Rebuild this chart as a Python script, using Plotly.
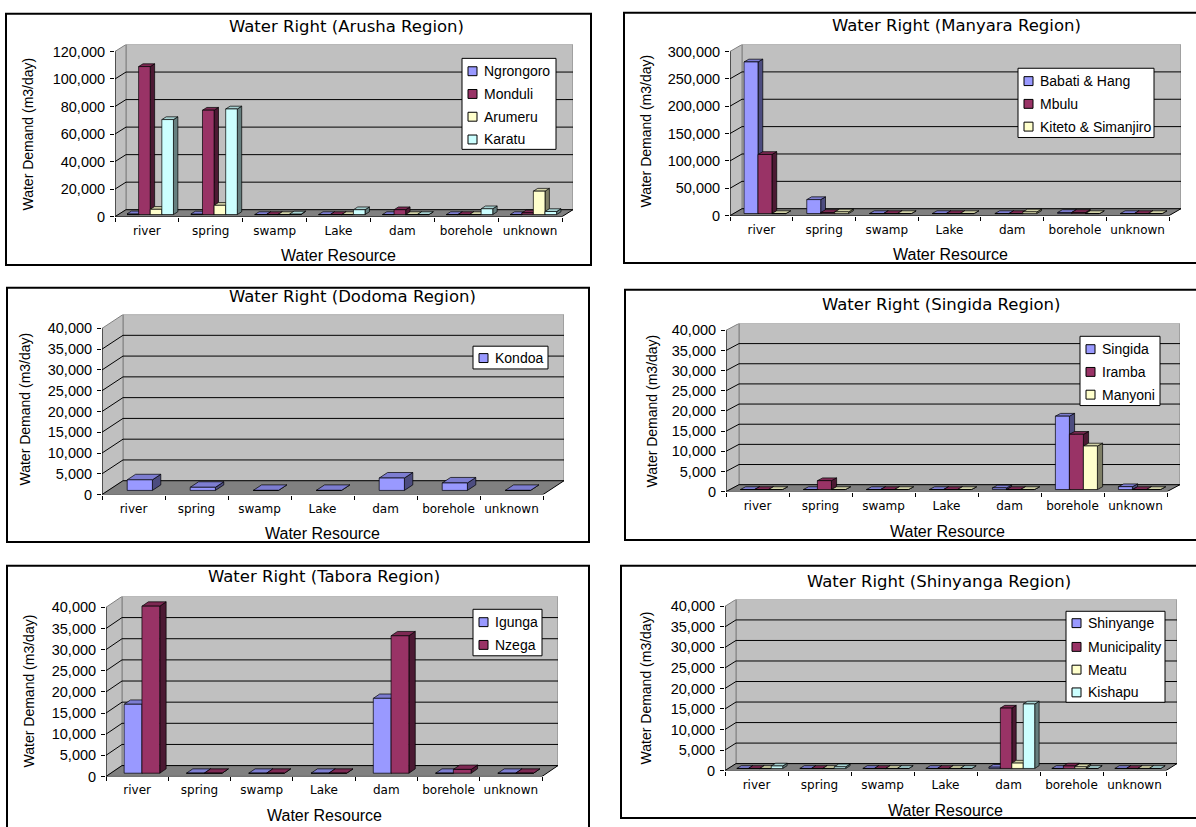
import plotly.graph_objects as go

W, H = 1196, 827

categories = ["river", "spring", "swamp", "Lake", "dam", "borehole", "unknown"]

# Arusha Region (m3/day)
arusha_names = ["Ngrongoro", "Monduli", "Arumeru", "Karatu"]
arusha_ngrongoro = [500, 400, 0, 0, 0, 0, 0]
arusha_monduli = [107500, 75800, 0, 0, 3500, 0, 1200]
arusha_arumeru = [3800, 6700, 0, 0, 0, 0, 17000]
arusha_karatu = [69000, 76700, 400, 3500, 0, 4200, 2200]

# Manyara Region
manyara_names = ["Babati & Hang", "Mbulu", "Kiteto & Simanjiro"]
manyara_babati = [277000, 25500, 0, 0, 0, 2000, 0]
manyara_mbulu = [108000, 2000, 0, 0, 0, 2000, 0]
manyara_kiteto = [0, 3000, 0, 0, 3000, 0, 0]

# Dodoma Region
dodoma_names = ["Kondoa"]
dodoma_kondoa = [2550, 750, 0, 0, 2980, 1790, 0]

# Singida Region
singida_names = ["Singida", "Iramba", "Manyoni"]
singida_singida = [0, 0, 0, 0, 400, 18200, 700]
singida_iramba = [0, 2200, 0, 0, 0, 13700, 0]
singida_manyoni = [0, 0, 0, 0, 0, 10800, 0]

# Tabora Region
tabora_names = ["Igunga", "Nzega"]
tabora_igunga = [16300, 0, 0, 0, 17700, 0, 0]
tabora_nzega = [39500, 0, 0, 0, 32500, 900, 0]

# Shinyanga Region
shinyanga_names = ["Shinyange", "Municipality", "Meatu", "Kishapu"]
shinyanga_shinyange = [0, 0, 0, 0, 300, 0, 0]
shinyanga_municipality = [0, 0, 0, 0, 14700, 600, 0]
shinyanga_meatu = [0, 0, 0, 0, 1300, 400, 0]
shinyanga_kishapu = [600, 400, 0, 0, 15700, 0, 0]

series_colors = ["#9999FF", "#993366", "#FFFFCC", "#CCFFFF"]

# Panel geometry in pixels: frame box, front floor edge (xf0..xf1 at y0),
# pixel row of the axis maximum, wall depth, text anchors and legend box.
panels = [
    dict(title="Water Right (Arusha Region)", names=arusha_names,
         series=[arusha_ngrongoro, arusha_monduli, arusha_arumeru, arusha_karatu],
         ymax=120000, dtick=20000,
         box=(6, 13, 591, 267), xf0=115, xf1=562, y0=218, ytop=51, depth=(11, 7),
         title_xy=(347, 26), xtitle_xy=(338, 257), ytitle_xy=(28, 135),
         legend_box=(462, 58, 556, 150), legend_y=[71, 94, 117, 140]),
    dict(title="Water Right (Manyara Region)", names=manyara_names,
         series=[manyara_babati, manyara_mbulu, manyara_kiteto],
         ymax=300000, dtick=50000,
         box=(624, 12, 1240, 265), xf0=730, xf1=1169, y0=217, ytop=51, depth=(12, 7),
         title_xy=(956, 25), xtitle_xy=(950, 256), ytitle_xy=(646, 132),
         legend_box=(1018, 68, 1154, 138), legend_y=[81, 104, 127]),
    dict(title="Water Right (Dodoma Region)", names=dodoma_names,
         series=[dodoma_kondoa],
         ymax=40000, dtick=5000,
         box=(7, 290, 589, 547), xf0=102, xf1=543, y0=499, ytop=331, depth=(21, 14),
         title_xy=(352, 299), xtitle_xy=(322, 538), ytitle_xy=(25, 413),
         legend_box=(473, 349, 548, 372), legend_y=[361]),
    dict(title="Water Right (Singida Region)", names=singida_names,
         series=[singida_singida, singida_iramba, singida_manyoni],
         ymax=40000, dtick=5000,
         box=(625, 292, 1240, 545), xf0=726, xf1=1167, y0=496, ytop=333, depth=(13, 7),
         title_xy=(941, 307), xtitle_xy=(947, 536), ytitle_xy=(652, 415),
         legend_box=(1080, 339, 1160, 409), legend_y=[352, 375, 398]),
    dict(title="Water Right (Tabora Region)", names=tabora_names,
         series=[tabora_igunga, tabora_nzega],
         ymax=40000, dtick=5000,
         box=(7, 571, 589, 860), xf0=106, xf1=542, y0=784, ytop=613, depth=(16, 11),
         title_xy=(324, 582), xtitle_xy=(324, 823), ytitle_xy=(29, 698),
         legend_box=(473, 615, 542, 662), legend_y=[628, 651]),
    dict(title="Water Right (Shinyanga Region)", names=shinyanga_names,
         series=[shinyanga_shinyange, shinyanga_municipality, shinyanga_meatu, shinyanga_kishapu],
         ymax=40000, dtick=5000,
         box=(621, 571, 1240, 826), xf0=725, xf1=1166, y0=778, ytop=612, depth=(11, 7),
         title_xy=(939, 587), xtitle_xy=(945, 818), ytitle_xy=(646, 695),
         legend_box=(1066, 617, 1165, 709), legend_y=[629, 653, 676, 699]),
]

WALL = "#C0C0C0"
FLOOR = "#808080"
EDGE = "#808080"
BAR_FRONT = 0.3   # bar front face position within the floor depth
BAR_BACK = 0.7    # bar back face position within the floor depth
SANS = "Liberation Sans, Arial, sans-serif"
TICK_FONT = dict(family=SANS, size=14.5, color="black")
CAT_FONT = dict(family="DejaVu Sans, sans-serif", size=12, color="black")
TITLE_FONT = dict(family="DejaVu Sans, sans-serif", size=16.5, color="black")
LABEL_FONT = dict(family=SANS, size=14, color="black")
XTITLE_FONT = dict(family=SANS, size=16, color="black")
YTITLE_FONT = dict(family=SANS, size=14, color="black")


def px_x(v):
    return v / W


def px_y(v):
    return 1 - v / H


def shade(color, f):
    r, g, b = int(color[1:3], 16), int(color[3:5], 16), int(color[5:7], 16)
    return f"rgb({int(r * f)},{int(g * f)},{int(b * f)})"


def fmt(v):
    return f"{v:,}"


fig = go.Figure()
shapes = []
annotations = []
layout_axes = {}

for idx, p in enumerate(panels, start=1):
    sfx = "" if idx == 1 else str(idx)
    xref, yref = "x" + sfx, "y" + sfx
    xf0, xf1, y0, ytop = p["xf0"], p["xf1"], p["y0"], p["ytop"]
    ddx, ddy = p["depth"]
    ymax, dtick = p["ymax"], p["dtick"]
    ncat = len(categories)
    band = (xf1 - xf0) / ncat
    dxu = ddx / band
    dyu = ddy * ymax / (y0 - ytop)
    xlo, xhi = -0.5, ncat - 0.5

    layout_axes["xaxis" + sfx] = dict(
        domain=[px_x(xf0), px_x(xf1 + ddx)], range=[xlo, xhi + dxu], anchor=yref,
        tickmode="array", tickvals=list(range(ncat)), ticktext=categories,
        tickfont=CAT_FONT, showgrid=False, zeroline=False, showline=False,
        ticks="", ticklabelstandoff=5, fixedrange=True,
        minor=dict(tickvals=[k - 0.5 for k in range(ncat + 1)], ticks="outside",
                   ticklen=4, tickcolor="black", showgrid=False),
    )
    yticks = list(range(0, ymax + 1, dtick))
    layout_axes["yaxis" + sfx] = dict(
        domain=[px_y(y0), px_y(ytop - ddy)], range=[0, ymax + dyu], anchor=xref,
        tickmode="array", tickvals=yticks, ticktext=[fmt(v) for v in yticks],
        tickfont=TICK_FONT, showgrid=False, zeroline=False, showline=False,
        ticks="outside", ticklen=4, tickcolor="black", ticklabelstandoff=2,
        fixedrange=True,
    )

    # chart frame
    bx0, by0, bx1, by1 = p["box"]
    shapes.append(dict(type="rect", xref="paper", yref="paper", layer="below",
                       x0=px_x(bx0), x1=px_x(bx1), y0=px_y(by0), y1=px_y(by1),
                       line=dict(color="black", width=2), fillcolor="white"))

    # back wall, side wall and floor
    shapes.append(dict(type="rect", xref=xref, yref=yref, layer="below",
                       x0=xlo + dxu, x1=xhi + dxu, y0=dyu, y1=ymax + dyu,
                       fillcolor=WALL, line=dict(color=EDGE, width=1)))
    shapes.append(dict(type="path", xref=xref, yref=yref, layer="below",
                       path=f"M{xlo},0 L{xlo + dxu},{dyu} L{xlo + dxu},{ymax + dyu} L{xlo},{ymax} Z",
                       fillcolor=WALL, line=dict(color=EDGE, width=1)))
    for v in yticks[1:-1]:
        shapes.append(dict(type="line", xref=xref, yref=yref, layer="below",
                           x0=xlo + dxu, x1=xhi + dxu, y0=v + dyu, y1=v + dyu,
                           line=dict(color="black", width=1)))
        shapes.append(dict(type="line", xref=xref, yref=yref, layer="below",
                           x0=xlo, x1=xlo + dxu, y0=v, y1=v + dyu,
                           line=dict(color="black", width=1)))
    shapes.append(dict(type="path", xref=xref, yref=yref, layer="below",
                       path=f"M{xlo},0 L{xhi},0 L{xhi + dxu},{dyu} L{xlo + dxu},{dyu} Z",
                       fillcolor=FLOOR, line=dict(color="black", width=1)))
    shapes.append(dict(type="line", xref=xref, yref=yref, layer="below",
                       x0=xlo, x1=xlo, y0=0, y1=ymax, line=dict(color="black", width=1)))

    # 3-D clustered columns: side, top and front faces built from the values
    nser = len(p["series"])
    w = 1.0 / (nser + 1.5)
    sx, sy = BAR_FRONT * dxu, BAR_FRONT * dyu
    bdx, bdy = (BAR_BACK - BAR_FRONT) * dxu, (BAR_BACK - BAR_FRONT) * dyu
    for i, (name, vals) in enumerate(zip(p["names"], p["series"])):
        color = series_colors[i]
        side_x, side_y, top_x, top_y, front_x, front_y = [], [], [], [], [], []
        for k, v in enumerate(vals):
            xl = k - nser * w / 2 + i * w + sx
            xr = xl + w
            b = sy
            t = sy + v
            side_x += [xr, xr + bdx, xr + bdx, xr, xr, None]
            side_y += [b, b + bdy, t + bdy, t, b, None]
            top_x += [xl, xr, xr + bdx, xl + bdx, xl, None]
            top_y += [t, t, t + bdy, t + bdy, t, None]
            front_x += [xl, xr, xr, xl, xl, None]
            front_y += [b, b, t, t, b, None]
        for fx, fy, fc in ((side_x, side_y, shade(color, 0.5)),
                           (top_x, top_y, shade(color, 0.82)),
                           (front_x, front_y, color)):
            fig.add_trace(go.Scatter(
                x=fx, y=fy, xaxis=xref, yaxis=yref, mode="lines", fill="toself",
                fillcolor=fc, line=dict(color="black", width=0.7),
                name=name, showlegend=False, hoverinfo="skip"))

    # titles
    tx, ty = p["title_xy"]
    annotations.append(dict(text=p["title"], x=px_x(tx), y=px_y(ty), xref="paper", yref="paper",
                            showarrow=False, font=TITLE_FONT, xanchor="center", yanchor="middle"))
    tx, ty = p["xtitle_xy"]
    annotations.append(dict(text="Water Resource", x=px_x(tx), y=px_y(ty), xref="paper", yref="paper",
                            showarrow=False, font=XTITLE_FONT, xanchor="center", yanchor="middle"))
    tx, ty = p["ytitle_xy"]
    annotations.append(dict(text="Water Demand (m3/day)", x=px_x(tx), y=px_y(ty), xref="paper",
                            yref="paper", showarrow=False, textangle=-90, font=YTITLE_FONT,
                            xanchor="center", yanchor="middle"))

    # legend box
    lx0, ly0, lx1, ly1 = p["legend_box"]
    shapes.append(dict(type="rect", xref="paper", yref="paper", layer="above",
                       x0=px_x(lx0), x1=px_x(lx1), y0=px_y(ly0), y1=px_y(ly1),
                       fillcolor="white", line=dict(color="black", width=1)))
    for i, (name, ly) in enumerate(zip(p["names"], p["legend_y"])):
        shapes.append(dict(type="rect", xref="paper", yref="paper", layer="above",
                           x0=px_x(lx0 + 6), x1=px_x(lx0 + 15), y0=px_y(ly - 4.5), y1=px_y(ly + 4.5),
                           fillcolor=series_colors[i], line=dict(color="black", width=1)))
        annotations.append(dict(text=name, x=px_x(lx0 + 20), y=px_y(ly), xref="paper", yref="paper",
                                showarrow=False, font=LABEL_FONT, xanchor="left", yanchor="middle"))

fig.update_layout(
    width=W, height=H, margin=dict(l=0, r=0, t=0, b=0),
    paper_bgcolor="white", plot_bgcolor="rgba(0,0,0,0)",
    showlegend=False, shapes=shapes, annotations=annotations, **layout_axes,
)

fig.write_html("out.html", config={"displayModeBar": False})
